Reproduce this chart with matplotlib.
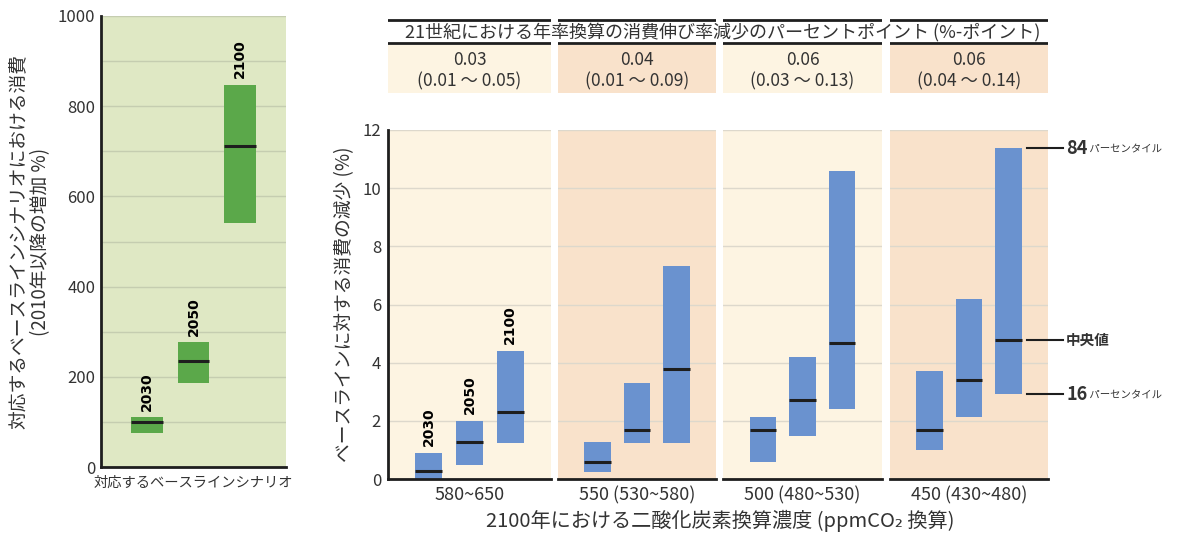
import numpy as np
import matplotlib.pyplot as plt
import matplotlib.transforms as mtransforms

plt.rcParams['font.family'] = ['Noto Sans CJK JP', 'DejaVu Sans']

years = ["2030", "2050", "2100"]

# baseline consumption growth since 2010 (%)
base_low = [75, 187, 540]
base_med = [100, 234, 711]
base_high = [111, 277, 848]

# consumption loss relative to baseline (%), per concentration category
categories = ["580~650", "550 (530~580)", "500 (480~530)", "450 (430~480)"]
loss_low = [[0.0, 0.49, 1.24], [0.23, 1.24, 1.24], [0.60, 1.49, 2.41], [1.01, 2.13, 2.92]]
loss_med = [[0.28, 1.27, 2.30], [0.60, 1.67, 3.79], [1.67, 2.70, 4.69], [1.67, 3.39, 4.79]]
loss_high = [[0.89, 1.98, 4.39], [1.26, 3.30, 7.31], [2.12, 4.19, 10.6], [3.70, 6.19, 11.37]]

growth_med = ["0.03", "0.04", "0.06", "0.06"]
growth_range = ["(0.01 ～ 0.05)", "(0.01 ～ 0.09)", "(0.03 ～ 0.13)", "(0.04 ～ 0.14)"]

W, H = 1181, 537
cream = "#fdf4e2"
peach = "#f9e2cb"
panel_bg = [cream, peach, cream, peach]
blue = "#6a92cf"
green = "#5ba84a"
dark = "#1e1e1e"
txt = "#333333"


def fx(px):
    return px / W


def fy(py):
    return 1 - py / H


fig = plt.figure(figsize=(W / 100, H / 100), dpi=100)

# ---- left: baseline scenario ----
ax0 = fig.add_axes([fx(101), fy(467), fx(185), 451 / H])
ax0.set_facecolor("#dfe8c4")
pos = np.arange(1, 4)
ax0.bar(pos, np.array(base_high) - np.array(base_low), bottom=base_low,
        width=0.69, color=green, zorder=2)
ax0.hlines(base_med, pos - 0.345, pos + 0.345, color=dark, lw=2.2, zorder=3)
for p, y, t in zip(pos, base_high, years):
    ax0.text(p, y + 14, t, rotation=90, ha="center", va="bottom",
             fontsize=10, fontweight="bold", family=["DejaVu Sans"])
ax0.set_xlim(0, 4)
ax0.set_ylim(0, 1000)
ax0.set_yticks(np.arange(0, 1001, 200))
ax0.set_yticks(np.arange(0, 1001, 100), minor=True)
ax0.grid(True, which="both", axis="y", color="#c5cdb0", lw=1, zorder=0)
ax0.set_xticks([])
ax0.tick_params(axis="y", which="both", length=0, labelsize=12, pad=4,
                labelcolor=txt)
for s in ["top", "right"]:
    ax0.spines[s].set_visible(False)
for s in ["left", "bottom"]:
    ax0.spines[s].set_linewidth(2)
    ax0.spines[s].set_color(dark)
ax0.set_xlabel("対応するベースラインシナリオ", fontsize=10.3, labelpad=6,
               color=txt)
ax0.set_ylabel("対応するベースラインシナリオにおける消費\n(2010年以降の増加 %)",
               fontsize=13.5, labelpad=5, color=txt, linespacing=1.0)

# ---- right: consumption loss by concentration category ----
panel_x = [(388, 551), (558, 716), (723, 882), (890, 1048)]
axes = []
for i, (x0, x1) in enumerate(panel_x):
    ax = fig.add_axes([fx(x0), fy(479), fx(x1 - x0), 349 / H])
    ax.set_facecolor(panel_bg[i])
    low = np.array(loss_low[i])
    high = np.array(loss_high[i])
    ax.bar(pos, high - low, bottom=low, width=0.66, color=blue, zorder=2)
    ax.hlines(loss_med[i], pos - 0.33, pos + 0.33, color=dark, lw=2.2, zorder=3)
    ax.set_xlim(0, 4)
    ax.set_ylim(0, 12)
    ax.set_yticks(np.arange(0, 13, 2))
    ax.grid(True, axis="y", color="#ddd8cc", lw=1, zorder=0)
    ax.set_xticks([2])
    ax.set_xticklabels([categories[i]])
    ax.tick_params(length=0, labelsize=13, labelcolor=txt, pad=5)
    for s in ["top", "right", "left"]:
        ax.spines[s].set_visible(False)
    ax.spines["bottom"].set_linewidth(2)
    ax.spines["bottom"].set_color(dark)
    if i == 0:
        ax.spines["left"].set_visible(True)
        ax.spines["left"].set_linewidth(2)
        ax.spines["left"].set_color(dark)
        ax.tick_params(axis="y", labelsize=12)
        ax.set_ylabel("ベースラインに対する消費の減少 (%)", fontsize=13.5,
                      labelpad=5, color=txt)
        for p, y, t in zip(pos, high, years):
            ax.text(p, y + 0.25, t, rotation=90, ha="center", va="bottom",
                    fontsize=10, fontweight="bold", family=["DejaVu Sans"])
    else:
        ax.set_yticklabels([])
    axes.append(ax)

    # header cell above each panel
    hx = fig.add_axes([fx(x0), fy(95), fx(x1 - x0), 78 / H])
    hx.set_xlim(0, 1)
    hx.set_ylim(95, 17)
    hx.axis("off")
    hx.axhspan(45, 93, color=panel_bg[i], lw=0)
    hx.axhline(20, color=dark, lw=2)
    hx.axhline(43, color=dark, lw=2)
    hx.text(0.5, 71, growth_med[i] + "\n" + growth_range[i], ha="center",
            va="center", fontsize=12.5, color=txt, linespacing=1.2)

fig.text(fx(723), fy(32), "21世紀における年率換算の消費伸び率減少のパーセントポイント (%-ポイント)",
         ha="center", va="center", fontsize=13, color=txt)
fig.text(fx(720), fy(521), "2100年における二酸化炭素換算濃度 (ppmCO₂ 換算)",
         ha="center", va="center", fontsize=14.5, color=txt)

# percentile key next to the last panel
ax4 = axes[-1]
tr = mtransforms.blended_transform_factory(fig.transFigure, ax4.transData)
key = [(loss_high[3][2], "84", " パーセンタイル"),
       (loss_med[3][2], "", "中央値"),
       (loss_low[3][2], "16", " パーセンタイル")]
for y, num, word in key:
    ax4.plot([fx(1027), fx(1063)], [y, y], color=dark, lw=1.5,
             transform=tr, clip_on=False)
    if num:
        t = ax4.text(fx(1066), y, num, transform=tr, ha="left", va="center",
                     fontsize=13, fontweight="bold", color=txt)
        ax4.annotate(word, xycoords=t, xy=(1, 0.5), va="center", ha="left",
                     fontsize=7.5, color=txt)
    else:
        ax4.text(fx(1066), y, word, transform=tr, ha="left", va="center",
                 fontsize=10.5, fontweight="bold", color=txt)

plt.savefig("out.png", dpi=100)
